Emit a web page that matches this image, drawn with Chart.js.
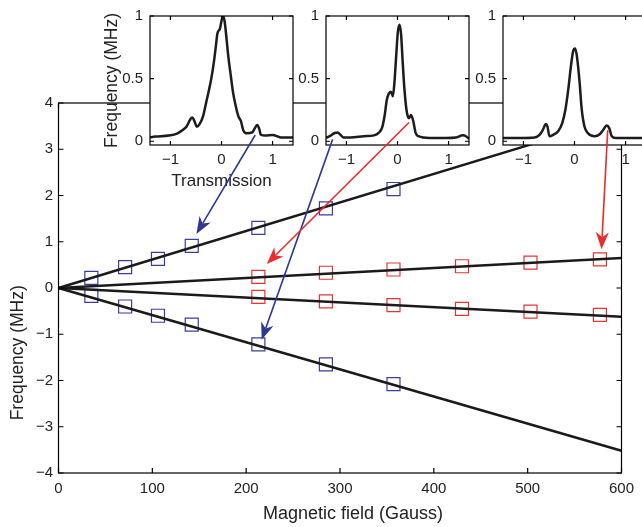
<!DOCTYPE html>
<html><head><meta charset="utf-8">
<script src="https://cdn.jsdelivr.net/npm/chart.js@4.4.1/dist/chart.umd.min.js"></script>
<style>
html,body{margin:0;padding:0;background:#fff;}
#wrap{position:relative;width:642px;height:527px;overflow:hidden;background:#fff;}
#wrap canvas{position:absolute;top:0;}
</style></head><body>
<div id="wrap">
<canvas id="main" width="642" height="527" style="left:0"></canvas>
<canvas id="in1" width="213" height="200"></canvas>
<canvas id="in2" width="213" height="200"></canvas>
<canvas id="in3" width="213" height="200"></canvas>
<canvas id="ov" width="642" height="527" style="left:0;pointer-events:none"></canvas>
</div>
<script>
// ---------- data ----------
const fieldG = [35, 71, 106, 142, 213, 285, 357, 430, 503, 577];
const blueUpper = [0.22, 0.45, 0.63, 0.91, 1.30, 1.72, 2.14];
const blueLower = [-0.17, -0.40, -0.60, -0.79, -1.22, -1.65, -2.08];
const redUpper = [0.24, 0.33, 0.40, 0.47, 0.55, 0.62];
const redLower = [-0.19, -0.29, -0.37, -0.45, -0.51, -0.58];
const fitX = [0, 600];
const fitBlueUpper = [0, 3.7];
const fitBlueLower = [0, -3.52];
const fitRedUpper = [0, 0.65];
const fitRedLower = [0, -0.62];
const mainXTicks = [0, 100, 200, 300, 400, 500, 600];
const mainYTicks = [-4, -3, -2, -1, 0, 1, 2, 3, 4];
const insetXTicks = [-1, 0, 1];
const insetYTicks = [0, 0.5, 1];
const xTitle = 'Magnetic field (Gauss)';
const yTitle = 'Frequency (MHz)';

const spec1X = [-1.42,-1.29,-1.03,-0.86,-0.76,-0.68,-0.61,-0.57,-0.53,-0.48,-0.43,-0.36,-0.30,-0.245,-0.20,-0.15,-0.11,-0.08,-0.03,0,0.03,0.06,0.086,0.13,0.18,0.23,0.28,0.33,0.38,0.43,0.50,0.60,0.66,0.70,0.74,0.77,0.86,1.0,1.16,1.4];
const spec1Y = [0.03,0.037,0.045,0.063,0.089,0.12,0.175,0.19,0.16,0.115,0.136,0.2,0.31,0.41,0.5,0.63,0.76,0.86,0.9,0.96,1.0,0.96,0.87,0.69,0.53,0.38,0.28,0.2,0.16,0.084,0.063,0.07,0.11,0.13,0.097,0.052,0.045,0.05,0.03,0.03];
const spec2X = [-1.4,-1.3,-1.23,-1.17,-1.12,-1.06,-0.92,-0.66,-0.46,-0.37,-0.30,-0.25,-0.21,-0.17,-0.13,-0.09,-0.06,-0.026,0.006,0.04,0.07,0.10,0.135,0.18,0.226,0.265,0.31,0.355,0.41,0.63,0.95,1.15,1.28,1.34,1.4];
const spec2Y = [0.026,0.047,0.066,0.07,0.053,0.03,0.03,0.04,0.047,0.066,0.11,0.21,0.33,0.38,0.395,0.36,0.47,0.68,0.87,0.93,0.855,0.645,0.42,0.24,0.184,0.21,0.158,0.066,0.04,0.026,0.026,0.03,0.047,0.04,0.02];
const spec3X = [-1.41,-1.07,-0.78,-0.68,-0.62,-0.56,-0.53,-0.49,-0.41,-0.32,-0.24,-0.175,-0.12,-0.07,-0.026,0.013,0.05,0.10,0.14,0.195,0.26,0.39,0.50,0.565,0.63,0.68,0.73,0.81,1.4];
const spec3Y = [0.026,0.026,0.03,0.053,0.09,0.137,0.118,0.04,0.053,0.08,0.145,0.26,0.42,0.6,0.72,0.74,0.67,0.47,0.26,0.118,0.066,0.04,0.058,0.092,0.126,0.105,0.04,0.026,0.026];

// arrows: start in an inset's data coords, end in main data coords
const arrowFromInset = [0, 1, 1, 2];
const arrowFromX = [0.66, -1.27, 0.225, 0.65];
const arrowFromY = [0.05, 0.015, 0.15, 0.087];
const arrowToX = [147, 216.5, 222, 578.7];
const arrowToY = [1.17, -1.12, 0.52, 0.84];
const BLUE = '#2c3796', RED = '#ea2b2b';
const arrowColors = [BLUE, BLUE, RED, RED];

// ---------- setup ----------
const TXT = '#222';
const FAMILY = "'Liberation Sans', Arial, Helvetica, sans-serif";
Chart.defaults.font.family = FAMILY;
Chart.defaults.color = TXT;
const fmt = v => String(v).replace('-', '\u2212');
const pts = (xs, ys) => xs.map((x, i) => ({x, y: ys[i]}));

function boxPlugin(tickLen, lw, fill) {
  return {
    id: 'box',
    beforeDatasetsDraw(c) {
      if (!fill) return;
      const a = c.chartArea, ctx = c.ctx;
      ctx.save(); ctx.fillStyle = '#fff';
      ctx.fillRect(a.left, a.top, a.right - a.left, a.bottom - a.top);
      ctx.restore();
    },
    afterDraw(c) {
      const {ctx, chartArea: a} = c, x = c.scales.x, y = c.scales.y;
      ctx.save(); ctx.strokeStyle = '#000'; ctx.lineWidth = lw;
      ctx.beginPath();
      x.ticks.forEach(t => { const p = x.getPixelForValue(t.value);
        ctx.moveTo(p, a.bottom); ctx.lineTo(p, a.bottom - tickLen);
        ctx.moveTo(p, a.top); ctx.lineTo(p, a.top + tickLen); });
      y.ticks.forEach(t => { const p = y.getPixelForValue(t.value);
        ctx.moveTo(a.left, p); ctx.lineTo(a.left + tickLen, p);
        ctx.moveTo(a.right, p); ctx.lineTo(a.right - tickLen, p); });
      ctx.stroke();
      ctx.strokeRect(a.left, a.top, a.right - a.left, a.bottom - a.top);
      ctx.restore();
    }
  };
}

// main axis titles (placed as in the original figure, not centred on the axes)
const titlePlugin = {
  id: 'titles',
  afterDraw(c) {
    const ctx = c.ctx, a = c.chartArea;
    ctx.save();
    ctx.fillStyle = TXT;
    ctx.textAlign = 'center'; ctx.textBaseline = 'middle';
    ctx.font = '18px ' + FAMILY;
    ctx.fillText(xTitle, a.left + (a.right - a.left) * 0.523, c.height - 13);
    ctx.font = '17.5px ' + FAMILY;
    ctx.translate(18, a.top + (a.bottom - a.top) * 0.675);
    ctx.rotate(-Math.PI / 2);
    ctx.fillText(yTitle, 0, 0);
    ctx.restore();
  }
};

const lineDs = (ys) => ({data: pts(fitX, ys), showLine: true, borderColor: '#1a1a1a', borderWidth: 2.5, pointRadius: 0});
const sqDs = (xs, ys, col) => ({data: pts(xs, ys), showLine: false, pointStyle: 'rect', pointRadius: 9.2,
  borderColor: col, backgroundColor: 'rgba(0,0,0,0)', pointBorderWidth: 1.2, borderWidth: 1.2});

const mainChart = new Chart(document.getElementById('main'), {
  type: 'scatter',
  data: {datasets: [
    lineDs(fitBlueUpper), lineDs(fitBlueLower), lineDs(fitRedUpper), lineDs(fitRedLower),
    sqDs(fieldG.slice(0, 7), blueUpper, '#3a3d9e'), sqDs(fieldG.slice(0, 7), blueLower, '#3a3d9e'),
    sqDs(fieldG.slice(4), redUpper, '#e63535'), sqDs(fieldG.slice(4), redLower, '#e63535')
  ]},
  options: {
    responsive: false, animation: false, devicePixelRatio: 1,
    layout: {padding: {top: 103, right: 20.5, left: 0, bottom: 0}},
    plugins: {legend: {display: false}, tooltip: {enabled: false}},
    scales: {
      x: {type: 'linear', min: 0, max: 600,
        afterBuildTicks: s => { s.ticks = mainXTicks.map(v => ({value: v})); },
        afterFit: s => { s.height = 54; },
        grid: {display: false, drawTicks: false}, border: {display: false},
        ticks: {padding: 7, font: {size: 15}, callback: fmt, maxRotation: 0},
        title: {display: false}},
      y: {type: 'linear', min: -4, max: 4,
        afterBuildTicks: s => { s.ticks = mainYTicks.map(v => ({value: v})); },
        afterFit: s => { s.width = 58.5; },
        grid: {display: false, drawTicks: false}, border: {display: false},
        ticks: {padding: 5.5, font: {size: 15}, callback: fmt},
        title: {display: false}}
    }
  },
  plugins: [boxPlugin(5, 1.2, false), titlePlugin]
});

const insetLeft = [150, 326, 503];
const specX = [spec1X, spec2X, spec3X], specY = [spec1Y, spec2Y, spec3Y];
const insets = [0, 1, 2].map(i => {
  const cv = document.getElementById('in' + (i + 1));
  cv.style.left = (insetLeft[i] - 60) + 'px';
  const first = i === 0;
  return new Chart(cv, {
    type: 'scatter',
    data: {datasets: [{data: pts(specX[i], specY[i]), showLine: true, borderColor: '#1c1c1c', borderWidth: 2.5,
      pointRadius: 0, cubicInterpolationMode: 'monotone'}]},
    options: {
      responsive: false, animation: false, devicePixelRatio: 1,
      layout: {padding: {top: 13, right: 10, left: 0, bottom: 0}},
      plugins: {legend: {display: false}, tooltip: {enabled: false}},
      scales: {
        x: {type: 'linear', min: -1.4, max: 1.4,
          afterBuildTicks: s => { s.ticks = insetXTicks.map(v => ({value: v})); },
          afterFit: s => { s.height = 55; },
          grid: {display: false, drawTicks: false}, border: {display: false},
          ticks: {padding: 6, font: {size: 15}, callback: fmt, maxRotation: 0},
          title: {display: first, text: 'Transmission', font: {size: 17}, padding: {top: 0, bottom: 8.8}}},
        y: {type: 'linear', min: -0.03, max: 1,
          afterBuildTicks: s => { s.ticks = insetYTicks.map(v => ({value: v})); },
          afterFit: s => { s.width = 60; },
          grid: {display: false, drawTicks: false}, border: {display: false},
          ticks: {padding: 7, font: {size: 15}, callback: fmt},
          title: {display: first, text: yTitle, font: {size: 17.5}, padding: {top: 11.5, bottom: 0}}}
      }
    },
    plugins: [boxPlugin(4, 1.2, true)]
  });
});

// ---------- arrows overlay ----------
function drawArrow(ctx, x0, y0, x1, y1, col) {
  const ang = Math.atan2(y1 - y0, x1 - x0);
  const L = 17, W = 6.5, N = 12;
  const ux = Math.cos(ang), uy = Math.sin(ang), px = -uy, py = ux;
  ctx.save();
  ctx.strokeStyle = col; ctx.lineWidth = 1.6;
  ctx.beginPath(); ctx.moveTo(x0, y0); ctx.lineTo(x1 - ux * N, y1 - uy * N); ctx.stroke();
  ctx.fillStyle = col; ctx.beginPath();
  ctx.moveTo(x1, y1);
  ctx.lineTo(x1 - ux * L + px * W, y1 - uy * L + py * W);
  ctx.lineTo(x1 - ux * N, y1 - uy * N);
  ctx.lineTo(x1 - ux * L - px * W, y1 - uy * L - py * W);
  ctx.closePath(); ctx.fill();
  ctx.restore();
}
const ov = document.getElementById('ov').getContext('2d');
arrowFromX.forEach((_, i) => {
  const ic = insets[arrowFromInset[i]];
  const ox = parseFloat(ic.canvas.style.left) || 0;
  const sx = ox + ic.scales.x.getPixelForValue(arrowFromX[i]);
  const sy = ic.scales.y.getPixelForValue(arrowFromY[i]);
  const tx = mainChart.scales.x.getPixelForValue(arrowToX[i]);
  const ty = mainChart.scales.y.getPixelForValue(arrowToY[i]);
  drawArrow(ov, sx, sy, tx, ty, arrowColors[i]);
});
</script>
</body></html>
